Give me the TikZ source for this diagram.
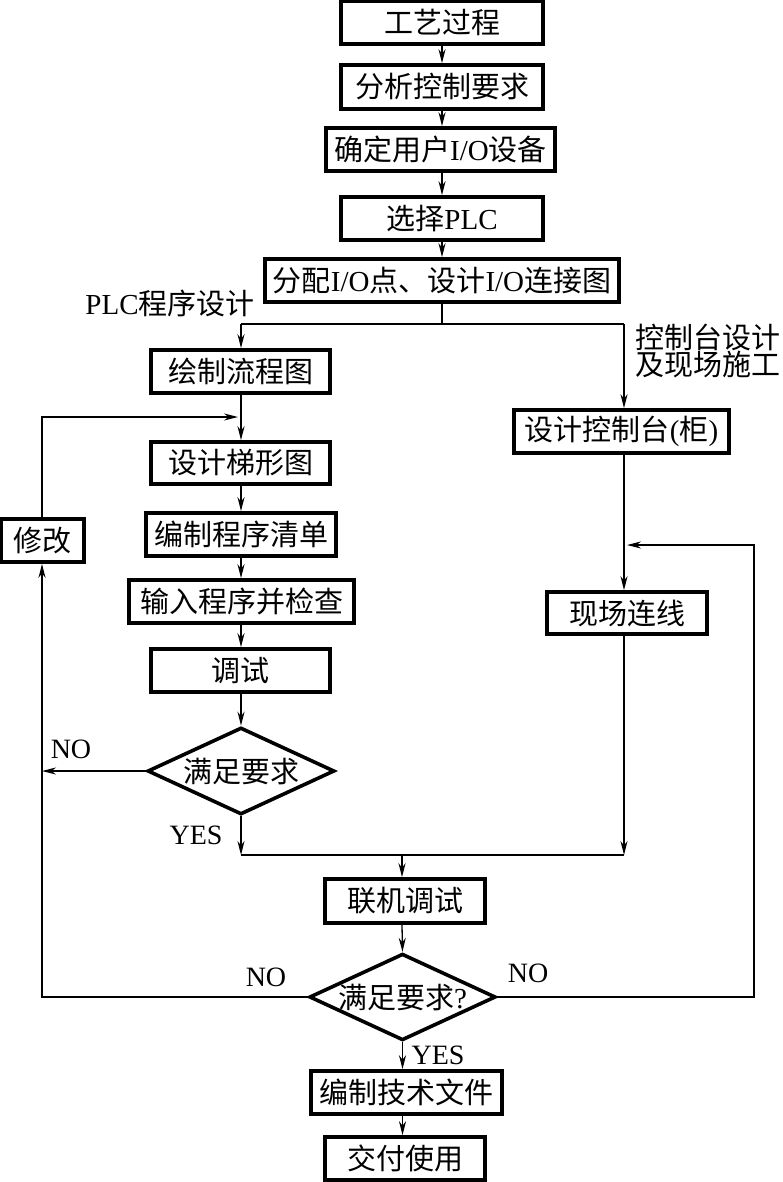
\documentclass[tikz,border=0pt]{standalone}
\usepackage{fontspec}
\setmainfont{Liberation Serif}
\newfontfamily\cjk{Noto Sans CJK SC}
\newcommand\zh[1]{{\cjk #1}}
\usetikzlibrary{arrows.meta,shapes.geometric}
\begin{document}
\begin{tikzpicture}[x=1pt,y=-1pt,
  every node/.style={font=\fontsize{29}{31}\selectfont},
  box/.style={draw,line width=3.6pt,inner sep=0pt,minimum height=43pt},
  dia/.style={draw,line width=3.6pt,diamond,aspect=2.15,inner sep=0pt},
  conn/.style={line width=1.3pt},
  arr/.style={conn,-{Stealth[length=14pt,width=7pt,inset=4.5pt]}},
  lbl/.style={inner sep=0pt}]
\useasboundingbox (0,0) rectangle (782,1182);
% main column
\node[box,minimum width=202pt] (b1) at (442,22.5) {\zh{工艺过程}};
\node[box,minimum width=202pt,minimum height=44pt] (b2) at (442,87) {\zh{分析控制要求}};
\node[box,minimum width=229pt] (b3) at (440.5,149.5) {\zh{确定用户}I/O\zh{设备}};
\node[box,minimum width=202pt] (b4) at (442,218.5) {\zh{选择}PLC};
\node[box,minimum width=354pt] (b5) at (442,280.5) {\zh{分配}I/O\zh{点、设计}I/O\zh{连接图}};
% left column
\node[box,minimum width=179pt] (c1) at (240.5,371.5) {\zh{绘制流程图}};
\node[box,minimum width=179pt,minimum height=42pt] (c2) at (240.5,463) {\zh{设计梯形图}};
\node[box,minimum width=190pt] (c3) at (241,534.5) {\zh{编制程序清单}};
\node[box,minimum width=225pt] (c4) at (241.5,601.5) {\zh{输入程序并检查}};
\node[box,minimum width=179pt] (c5) at (240.5,670.5) {\zh{调试}};
\node[dia,minimum width=187pt,minimum height=87pt] (d1) at (241,771) {\zh{满足要求}};
\node[box,minimum width=83pt] (m1) at (42.5,540.5) {\zh{修改}};
% right column
\node[box,minimum width=215pt] (r1) at (621.5,431.5) {\zh{设计控制台}(\zh{柜})};
\node[box,minimum width=160pt,minimum height=42pt] (r2) at (627,613) {\zh{现场连线}};
% bottom
\node[box,minimum width=160pt,minimum height=44pt] (e1) at (405,901) {\zh{联机调试}};
\node[dia,minimum width=185pt,minimum height=85pt] (d2) at (402.5,997) {\zh{满足要求}?};
\node[box,minimum width=191pt] (e2) at (406.5,1092.5) {\zh{编制技术文件}};
\node[box,minimum width=160pt] (e3) at (405,1158.5) {\zh{交付使用}};
% labels
\node[lbl] (lplc) at (170,303) {PLC\zh{程序设计}};
\node[lbl,anchor=west,align=left,font=\fontsize{29}{27}\selectfont\cjk] (lctl) at (635,351) {控制台设计\\及现场施工};
\node[lbl,font=\fontsize{28}{30}\selectfont] (no1) at (71,749) {NO};
\node[lbl,font=\fontsize{28}{30}\selectfont] (yes1) at (196,835) {YES};
\node[lbl,font=\fontsize{28}{30}\selectfont] (no2) at (266,977) {NO};
\node[lbl,font=\fontsize{28}{30}\selectfont] (no3) at (528,973) {NO};
\node[lbl,font=\fontsize{28}{30}\selectfont] (yes2) at (438,1055) {YES};
% coordinates
\coordinate (split) at (442,324);
\coordinate (splitL) at (241,324);
\coordinate (splitR) at (624,324);
\coordinate (fbL) at (42,417);
\coordinate (fbLend) at (238,417);
\coordinate (noL) at (42,771);
\coordinate (bl) at (42,997);
\coordinate (br) at (754,997);
\coordinate (tr) at (754,545);
\coordinate (fbRend) at (627,545);
\coordinate (mergeL) at (241,855);
\coordinate (mergeR) at (624,855);
\coordinate (mergeM) at (402,855);
% connectors main
\draw[arr] (b1) -- (b1.south |- b2.north);
\draw[arr] (b2) -- (b2.south |- b3.north);
\draw[arr] (b3.south -| b2.south) -- (b4.north);
\draw[arr] (b4) -- (b5.north -| b4.south);
\draw[conn] (b5.south -| split) -- (split);
\draw[conn] (splitL) -- (splitR);
\draw[arr] (splitL) -- (splitL |- c1.north);
\draw[arr] (splitR) -- (splitR |- r1.north);
% left column
\draw[arr] (c1.south -| splitL) -- (splitL |- c2.north);
\draw[arr] (c2.south -| splitL) -- (splitL |- c3.north);
\draw[arr] (c3.south -| splitL) -- (splitL |- c4.north);
\draw[arr] (c4.south -| splitL) -- (splitL |- c5.north);
\draw[arr] (c5.south -| splitL) -- (d1.north);
\draw[arr] (d1.west) -- (noL);
\draw[arr] (d2.west) -- (bl) -- (m1.south -| bl);
\draw[arr] (m1.north -| fbL) -- (fbL) -- (fbLend);
% right column
\draw[arr] (r1.south -| splitR) -- (splitR |- r2.north);
\draw[arr] (d2.east) -- (br) -- (tr) -- (fbRend);
% merge
\draw[arr] (d1.south) -- (mergeL);
\draw[arr] (r2.south -| mergeR) -- (mergeR);
\draw[conn] (mergeL) -- (mergeR);
\draw[arr] (mergeM) -- (mergeM |- e1.north);
\draw[arr] (e1.south -| mergeM) -- (d2.north);
\draw[arr] (d2.south) -- (d2.south |- e2.north);
\draw[arr] (e2.south -| d2.south) -- (d2.south |- e3.north);
\end{tikzpicture}
\end{document}
